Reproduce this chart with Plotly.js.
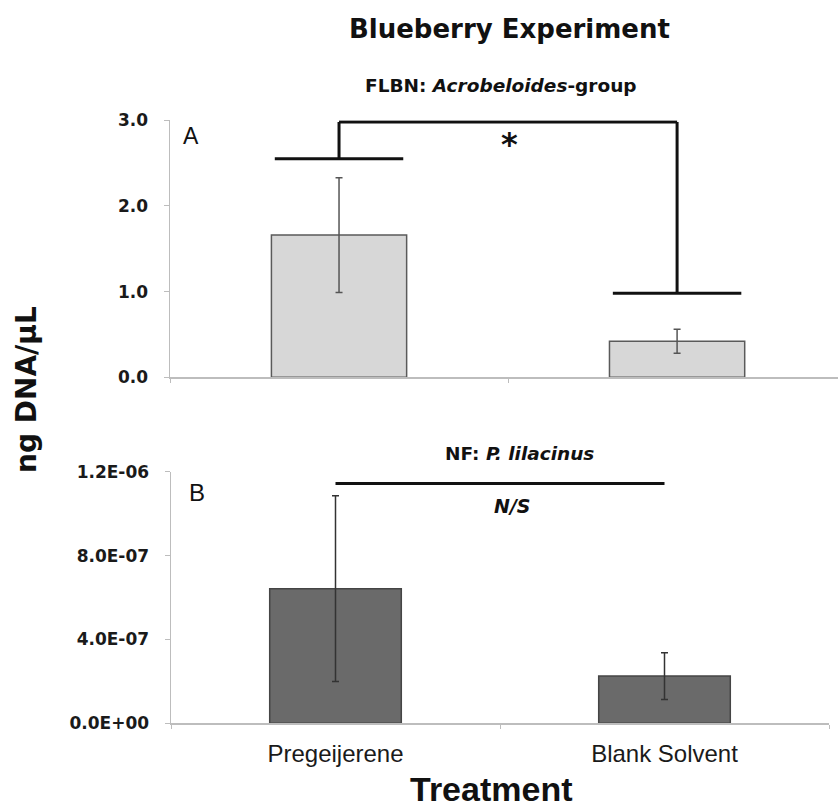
<!DOCTYPE html>
<html>
<head>
<meta charset="utf-8">
<script src="https://cdn.plot.ly/plotly-3.0.1.min.js"></script>
<style>html,body{margin:0;padding:0;background:#fff;}#chart{width:838px;height:811px;}</style>
</head>
<body>
<div id="chart"></div>
<script>
// ---- data ----
const treatments = ['Pregeijerene', 'Blank Solvent'];
const flbnMeans = [1.66, 0.42];          // ng DNA/uL, panel A
const flbnErrors = [0.67, 0.14];
const nfMeans = [6.42e-7, 2.25e-7];      // ng DNA/uL, panel B
const nfErrors = [4.43e-7, 1.11e-7];
const yTicksA = [0, 1, 2, 3];
const yTicksB = [0, 4e-7, 8e-7, 1.2e-6];
const yTickTextB = ['0.0E+00', '4.0E-07', '8.0E-07', '1.2E-06'];

// ---- helpers ----
const W = 838, H = 811;
const px = v => v / W;
const py = v => 1 - v / H;
const tickFont = {family: 'DejaVu Sans', size: 17, color: '#1a1a1a', weight: 'bold'};
const axisGray = '#bdbdbd';

const traces = [
  {
    type: 'bar', x: treatments, y: flbnMeans, xaxis: 'x', yaxis: 'y', width: 0.4,
    marker: {color: '#d7d7d7', line: {color: '#5a5a5a', width: 1.5}},
    error_y: {type: 'data', array: flbnErrors, visible: true, color: '#555', thickness: 1.5, width: 3.5},
    hoverinfo: 'skip'
  },
  {
    type: 'bar', x: treatments, y: nfMeans, xaxis: 'x2', yaxis: 'y2', width: 0.4,
    marker: {color: '#6a6a6a', line: {color: '#454545', width: 1.5}},
    error_y: {type: 'data', array: nfErrors, visible: true, color: '#333', thickness: 1.5, width: 3.5},
    hoverinfo: 'skip'
  }
];

// significance bracket levels (panel A) and N/S line level (panel B)
const bracketLeftLevel = 2.55, bracketTopLevel = 2.98, bracketRightLevel = 0.98, nsLevel = 1.144e-6;
const lineStyle = {color: '#111', width: 3};
const shapes = [
  {type: 'line', xref: 'x', yref: 'y', x0: -0.19, x1: 0.19, y0: bracketLeftLevel, y1: bracketLeftLevel, line: lineStyle},
  {type: 'line', xref: 'x', yref: 'y', x0: 0, x1: 0, y0: bracketLeftLevel, y1: bracketTopLevel, line: lineStyle},
  {type: 'line', xref: 'x', yref: 'y', x0: 0, x1: 1, y0: bracketTopLevel, y1: bracketTopLevel, line: lineStyle},
  {type: 'line', xref: 'x', yref: 'y', x0: 1, x1: 1, y0: bracketTopLevel, y1: bracketRightLevel, line: lineStyle},
  {type: 'line', xref: 'x', yref: 'y', x0: 0.81, x1: 1.19, y0: bracketRightLevel, y1: bracketRightLevel, line: lineStyle},
  {type: 'line', xref: 'x2', yref: 'y2', x0: 0, x1: 1, y0: nsLevel, y1: nsLevel, line: lineStyle}
];

function ann(text, x, y, font, extra) {
  return Object.assign({text: text, xref: 'paper', yref: 'paper', x: px(x), y: py(y),
    xanchor: 'center', yanchor: 'middle', showarrow: false, font: font}, extra || {});
}

const annotations = [
  ann('Blueberry Experiment', 509, 29, {family: 'DejaVu Sans', size: 26, color: '#111', weight: 'bold'}),
  ann('FLBN: <i>Acrobeloides</i>-group', 501, 85, {family: 'DejaVu Sans', size: 18.5, color: '#111', weight: 'bold'}),
  ann('*', 509, 144, {family: 'DejaVu Sans', size: 32, color: '#111', weight: 'bold'}),
  ann('A', 191, 136, {family: 'Liberation Sans', size: 23, color: '#111'}),
  ann('NF: <i>P. lilacinus</i>', 519, 453, {family: 'DejaVu Sans', size: 18.5, color: '#111', weight: 'bold'}),
  ann('<i>N/S</i>', 512, 506, {family: 'DejaVu Sans', size: 19, color: '#111', weight: 'bold'}),
  ann('B', 197, 492, {family: 'Liberation Sans', size: 24, color: '#111'}),
  ann('ng DNA/μL', 26, 390, {family: 'DejaVu Sans', size: 28, color: '#111', weight: 'bold'}, {textangle: -90}),
  ann('Treatment', 491, 789, {family: 'Liberation Sans', size: 34, color: '#111', weight: 'bold'})
];

const layout = {
  width: W, height: H,
  margin: {l: 0, r: 0, t: 0, b: 0, pad: 0},
  paper_bgcolor: '#fff', plot_bgcolor: '#fff',
  showlegend: false,
  bargap: 0,
  xaxis: {
    domain: [px(170), 1], range: [-0.5, 1.476], type: 'category',
    showline: true, linecolor: axisGray, linewidth: 1.5,
    ticks: 'outside', tickson: 'boundaries', ticklen: 4, tickcolor: axisGray,
    showticklabels: false, showgrid: false, zeroline: false, fixedrange: true, automargin: false
  },
  yaxis: {
    domain: [py(377.3), py(120.3)], range: [0, 3],
    tickvals: yTicksA, tickformat: '.1f',
    showline: true, linecolor: axisGray, linewidth: 1.5,
    ticks: 'outside', ticklen: 5, tickcolor: axisGray,
    tickfont: tickFont, ticklabelstandoff: 12,
    showgrid: false, zeroline: false, fixedrange: true, automargin: false
  },
  xaxis2: {
    domain: [px(171), px(829)], range: [-0.5, 1.5], type: 'category', anchor: 'y2',
    showline: true, linecolor: axisGray, linewidth: 1.5,
    ticks: 'outside', tickson: 'boundaries', ticklen: 4, tickcolor: axisGray,
    tickfont: {family: 'Liberation Sans', size: 24, color: '#1a1a1a'}, ticklabelstandoff: 8,
    showgrid: false, zeroline: false, fixedrange: true, automargin: false
  },
  yaxis2: {
    domain: [py(723.3), py(471.7)], range: [0, 1.2e-6], anchor: 'x2',
    tickvals: yTicksB, ticktext: yTickTextB,
    showline: true, linecolor: axisGray, linewidth: 1.5,
    ticks: 'outside', ticklen: 5, tickcolor: axisGray,
    tickfont: tickFont, ticklabelstandoff: 12,
    showgrid: false, zeroline: false, fixedrange: true, automargin: false
  },
  shapes: shapes,
  annotations: annotations
};

Plotly.newPlot('chart', traces, layout, {displayModeBar: false, staticPlot: true});
</script>
</body>
</html>
